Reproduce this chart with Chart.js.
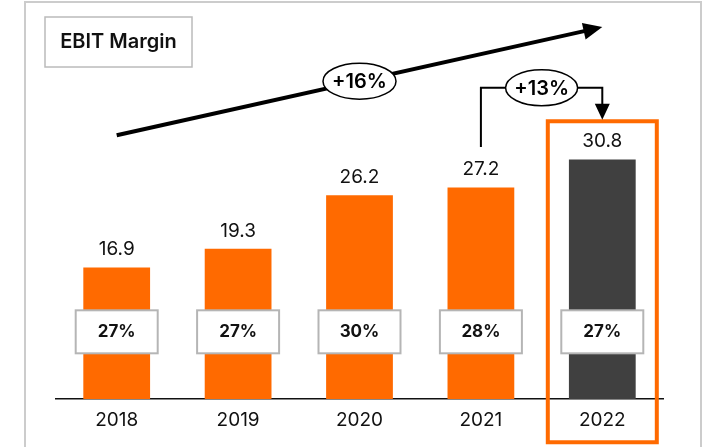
<!DOCTYPE html>
<html lang="en">
<head>
  <meta charset="UTF-8">
  <title>EBIT Margin</title>
  <script src="https://cdn.jsdelivr.net/npm/chart.js"></script>
  <style>
    body { margin: 0; background: #fff; }
    #wrap { width: 706px; height: 447px; }
  </style>
</head>
<body>
  <div id="wrap"><canvas id="ebitChart" width="706" height="447"></canvas></div>
  <script>
    const years = ['2018', '2019', '2020', '2021', '2022'];
    const ebit = [16.9, 19.3, 26.2, 27.2, 30.8];
    const margins = ['27%', '27%', '30%', '28%', '27%'];
    const growthTotal = '+16%';
    const growthLast = '+13%';
    const chartTitle = 'EBIT Margin';

    const ORANGE = '#FF6A00';
    const DARK = '#404040';
    const FONT = 'Inter, "Open Sans", sans-serif';

    function arrowHead(ctx, x, y, angle, len, half) {
      ctx.save();
      ctx.translate(x, y);
      ctx.rotate(angle);
      ctx.beginPath();
      ctx.moveTo(0, 0);
      ctx.lineTo(-len, -half);
      ctx.lineTo(-len, half);
      ctx.closePath();
      ctx.fill();
      ctx.restore();
    }

    function bubble(ctx, cx, cy, rx, ry, text) {
      ctx.beginPath();
      ctx.ellipse(cx, cy, rx, ry, 0, 0, Math.PI * 2);
      ctx.fillStyle = '#fff';
      ctx.fill();
      ctx.lineWidth = 1.5;
      ctx.strokeStyle = '#000';
      ctx.stroke();
      ctx.fillStyle = '#000';
      ctx.font = '600 20px ' + FONT;
      ctx.textAlign = 'center';
      ctx.textBaseline = 'middle';
      ctx.fillText(text, cx, cy + 1);
    }

    const decor = {
      id: 'decor',
      beforeDraw(chart) {
        const ctx = chart.ctx;
        ctx.save();
        // outer frame
        ctx.strokeStyle = '#cccccc';
        ctx.lineWidth = 2;
        ctx.strokeRect(25, 2, 676, 470);
        // title box
        ctx.strokeStyle = '#bbbbbb';
        ctx.lineWidth = 1.5;
        ctx.strokeRect(45, 17, 147, 50);
        ctx.fillStyle = '#111';
        ctx.font = '600 20px ' + FONT;
        ctx.textAlign = 'center';
        ctx.textBaseline = 'middle';
        ctx.fillText(chartTitle, 118.5, 42);
        ctx.restore();
      },
      afterDatasetsDraw(chart) {
        const ctx = chart.ctx;
        const xs = chart.scales.x, ys = chart.scales.y;
        const bars = chart.getDatasetMeta(0).data;
        ctx.save();

        // value labels and margin boxes
        bars.forEach((b, i) => {
          ctx.fillStyle = '#111';
          ctx.font = '19px ' + FONT;
          ctx.textAlign = 'center';
          ctx.textBaseline = 'middle';
          ctx.fillText(ebit[i].toFixed(1), b.x, b.y - 18);

          const by = ys.getPixelForValue(8.7);
          ctx.fillStyle = '#fff';
          ctx.fillRect(b.x - 41, by - 21, 82, 43);
          ctx.strokeStyle = '#b5b5b5';
          ctx.lineWidth = 2;
          ctx.strokeRect(b.x - 41, by - 21, 82, 43);
          ctx.fillStyle = '#111';
          ctx.font = 'bold 17px ' + FONT;
          ctx.fillText(margins[i], b.x, by + 1);
        });

        // highlight last year
        const last = bars[bars.length - 1];
        ctx.strokeStyle = ORANGE;
        ctx.lineWidth = 4;
        ctx.strokeRect(last.x - 54.5, ys.getPixelForValue(35.7), 109, 321);

        // overall trend arrow
        const x0 = xs.getPixelForValue(0), y0 = ys.getPixelForValue(33.9);
        const x1 = xs.getPixelForValue(4), y1 = ys.getPixelForValue(47.8);
        const ang = Math.atan2(y1 - y0, x1 - x0);
        ctx.strokeStyle = '#000';
        ctx.fillStyle = '#000';
        ctx.lineWidth = 4;
        ctx.beginPath();
        ctx.moveTo(x0, y0);
        ctx.lineTo(x1 - 14 * Math.cos(ang), y1 - 14 * Math.sin(ang));
        ctx.stroke();
        arrowHead(ctx, x1, y1, ang, 19, 8.5);
        bubble(ctx, (x0 + x1) / 2, (y0 + y1) / 2, 36.5, 18, growthTotal);

        // last year bracket
        const bx0 = xs.getPixelForValue(3), bx1 = xs.getPixelForValue(4);
        const yLow = ys.getPixelForValue(32.4);
        const yTop = ys.getPixelForValue(40);
        const yTip = ys.getPixelForValue(35.9);
        ctx.lineWidth = 2;
        ctx.beginPath();
        ctx.moveTo(bx0, yLow);
        ctx.lineTo(bx0, yTop);
        ctx.lineTo(bx1, yTop);
        ctx.lineTo(bx1, yTip - 14);
        ctx.stroke();
        ctx.fillStyle = '#000';
        arrowHead(ctx, bx1, yTip, Math.PI / 2, 16, 7.5);
        bubble(ctx, (bx0 + bx1) / 2, yTop, 36, 18, growthLast);

        ctx.restore();
      }
    };

    const ctx = document.getElementById('ebitChart').getContext('2d');
    new Chart(ctx, {
      type: 'bar',
      data: {
        labels: years,
        datasets: [{
          data: ebit,
          backgroundColor: ebit.map((v, i) => i === ebit.length - 1 ? DARK : ORANGE),
          barPercentage: 0.55,
          categoryPercentage: 1
        }]
      },
      options: {
        responsive: false,
        animation: false,
        layout: { padding: { left: 56, right: 43, top: 10, bottom: 0 } },
        plugins: { legend: { display: false }, tooltip: { enabled: false } },
        scales: {
          x: {
            grid: { display: false, drawTicks: false },
            border: { display: true, color: '#111', width: 1.5 },
            ticks: { color: '#111', font: { family: FONT, size: 19 }, padding: 10 },
            afterFit(scale) { scale.height = 48; }
          },
          y: { display: false, min: 0, max: 50 }
        }
      },
      plugins: [decor]
    });
  </script>
</body>
</html>
